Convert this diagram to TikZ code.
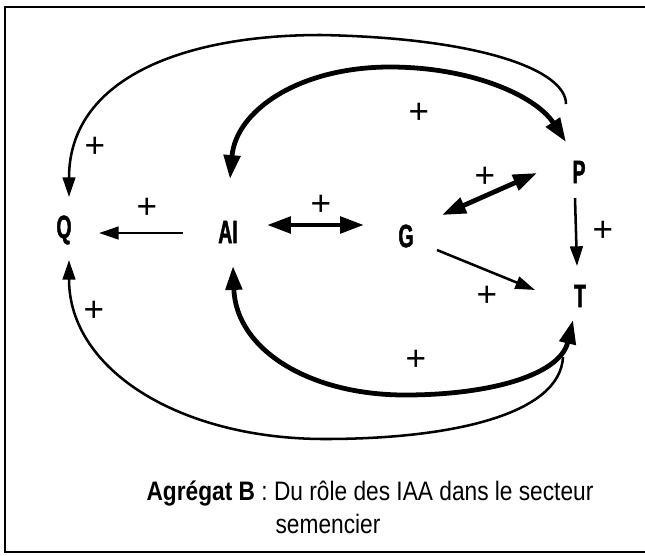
\documentclass[tikz,border=0pt]{standalone}
\usepackage{fontspec}
\setmainfont{Liberation Sans}
\newfontfamily\captionfont[FakeStretch=0.85]{Liberation Sans}
\newfontfamily\varfont[FakeStretch=0.6, FakeBold=1.5]{Liberation Sans}
\usetikzlibrary{arrows.meta, calc}
\tikzset{
  var/.style={
    font=\varfont\bfseries\fontsize{23pt}{23pt}\selectfont,
    inner sep=0pt
  },
  sign/.style={
    font=\fontsize{25pt}{25pt}\selectfont,
    inner sep=0pt
  },
  caption/.style={
    font=\captionfont\fontsize{19pt}{22pt}\selectfont,
    inner sep=0pt,
    anchor=base
  },
  thinlink/.style={-{Triangle[length=14pt, width=9pt]}, line width=1.8pt},
  thicklink/.style={{Triangle[length=17pt, width=11.5pt]}-{Triangle[length=17pt, width=11.5pt]}, line width=3.4pt},
  boxline/.style={line width=1.5pt}
}

\begin{document}
\begin{tikzpicture}[x=0.025cm, y=-0.025cm]
    \useasboundingbox (0,0) rectangle (645,555);
    \draw[boxline] (645,7) -- (5,7) -- (5,552) -- (645,552);

    \node[var] (q) at (64,230) {Q};
    \node[var] (ai) at (228,232) {AI};
    \node[var] (g) at (406,236) {G};
    \node[var] (p) at (579,172) {P};
    \node[var] (t) at (580,296) {T};

    \draw[thinlink] ($(ai)+(-45,1)$) -- ($(q)+(35,3)$);
    \draw[thicklink] ($(ai)+(39,-7)$) -- ($(g)+(-42,-11)$);
    \draw[thicklink] ($(g)+(36,-21)$) -- ($(p)+(-42,1)$);
    \draw[thinlink] ($(p)+(-4,26)$) -- ($(t)+(-3,-30)$);
    \draw[thinlink] ($(g)+(31,14)$) -- ($(t)+(-45,-6)$);

    % outer loops to Q
    \draw[thinlink] ($(p)+(-13,-68)$) .. controls (566,70) and (480,38) .. (321,35)
        .. controls (180,35) and (69,80) .. ($(q)+(5,-33)$);
    \draw[thinlink] ($(t)+(-17,61)$) .. controls (560,415) and (450,439) .. (325,439)
        .. controls (180,439) and (69,370) .. ($(q)+(5,30)$);

    % inner loops AI - P and AI - T
    \draw[thicklink] ($(ai)+(2,-53)$) .. controls (236,110) and (300,67) .. (390,67)
        .. controls (470,67) and (535,95) .. ($(p)+(-13,-30)$);
    \draw[thicklink] ($(ai)+(5,34)$) .. controls (236,350) and (310,395) .. (405,395)
        .. controls (490,395) and (560,375) .. ($(t)+(-7,24)$);

    \node[sign] (plusqtop) at (95,147) {+};
    \node[sign] (plusaiq) at (147,208) {+};
    \node[sign] (plusaig) at (321,205) {+};
    \node[sign] (plusaip) at (419,113) {+};
    \node[sign] (plusgp) at (485,177) {+};
    \node[sign] (pluspt) at (603,231) {+};
    \node[sign] (plusgt) at (487,296) {+};
    \node[sign] (plusqbot) at (94,311) {+};
    \node[sign] (plusait) at (416,360) {+};

    \node[caption] (title) at (370,500) {\textbf{Agrégat B} : Du rôle des IAA dans le secteur};
    \node[caption] (title2) at (328,533) {semencier};
\end{tikzpicture}
\end{document}
